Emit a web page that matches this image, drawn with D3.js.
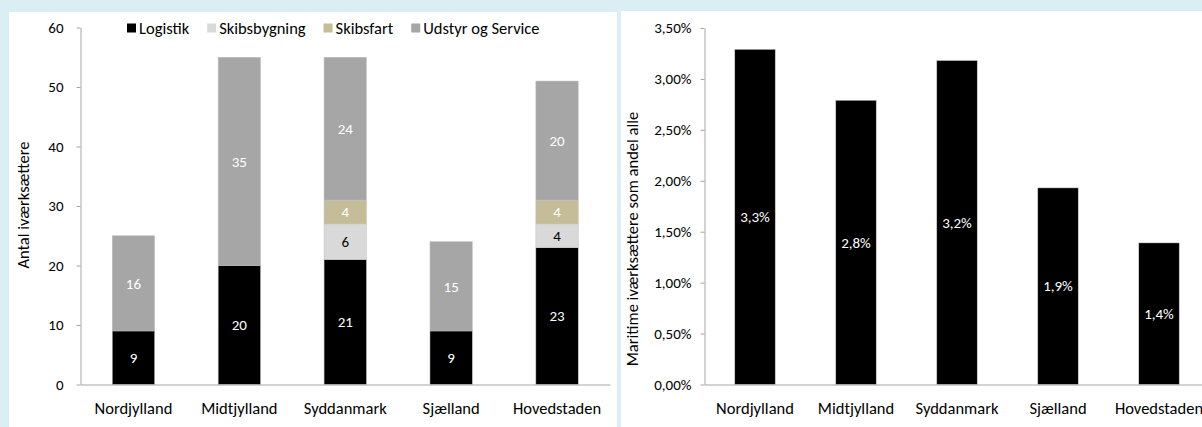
<!DOCTYPE html>
<html>
<head>
<meta charset="utf-8">
<script src="https://cdn.jsdelivr.net/npm/d3@7"></script>
<style>
  body { margin: 0; background: #daeef3; }
  svg { display: block; font-family: Carlito, Lato, "Open Sans", sans-serif; }
</style>
</head>
<body>
<svg id="chart" width="1202" height="427"></svg>
<script>
// data
const regions = ["Nordjylland", "Midtjylland", "Syddanmark", "Sjælland", "Hovedstaden"];
const sectors = ["Logistik", "Skibsbygning", "Skibsfart", "Udstyr og Service"];
const logistik = [9, 20, 21, 9, 23];
const skibsbygning = [0, 0, 6, 0, 4];
const skibsfart = [0, 0, 4, 0, 4];
const udstyr = [16, 35, 24, 15, 20];
const countTicks = [0, 10, 20, 30, 40, 50, 60];
const andel = [0.0329, 0.0279, 0.0318, 0.0193, 0.0139];
const andelLabels = ["3,3%", "2,8%", "3,2%", "1,9%", "1,4%"];
const pctTicks = [0, 0.005, 0.01, 0.015, 0.02, 0.025, 0.03, 0.035];
const pctTickLabels = ["0,00%", "0,50%", "1,00%", "1,50%", "2,00%", "2,50%", "3,00%", "3,50%"];

const colors = ["#000000", "#d9d9d9", "#c4bd97", "#a6a6a6"];
const labelColors = ["#ffffff", "#000000", "#ffffff", "#ffffff"];
const numSize = 15;     // numbers
const wordSize = 16.5;  // words
const titleSize = 16.5;

const svg = d3.select("#chart");

// panels
svg.append("rect").attr("x", 9).attr("y", 12).attr("width", 608).attr("height", 415).attr("fill", "#fff");
svg.append("rect").attr("x", 621).attr("y", 11).attr("width", 581).attr("height", 416).attr("fill", "#fff");

// ---------- left: stacked bars ----------
const table = regions.map((r, i) => ({
  region: r,
  "Logistik": logistik[i],
  "Skibsbygning": skibsbygning[i],
  "Skibsfart": skibsfart[i],
  "Udstyr og Service": udstyr[i]
}));
const stacked = d3.stack().keys(sectors)(table);

const x1 = d3.scaleBand().domain(regions).range([80.5, 610]).paddingInner(0.6).paddingOuter(0.3);
const y1 = d3.scaleLinear().domain([0, 60]).range([384.5, 27.5]);

const left = svg.append("g");

const layers = left.selectAll("g.layer").data(stacked).join("g")
  .attr("class", "layer")
  .attr("fill", (d, i) => colors[i]);

layers.selectAll("rect").data(d => d.filter(s => s[1] - s[0] > 0)).join("rect")
  .attr("x", d => x1(d.data.region))
  .attr("y", d => y1(d[1]))
  .attr("width", x1.bandwidth())
  .attr("height", d => y1(d[0]) - y1(d[1]))
  .attr("stroke", "#bfbfbf")
  .attr("stroke-width", 0.5);

layers.each(function(layer, i) {
  d3.select(this).selectAll("text").data(layer.filter(s => s[1] - s[0] > 0)).join("text")
    .attr("x", d => x1(d.data.region) + x1.bandwidth() / 2)
    .attr("y", d => (y1(d[0]) + y1(d[1])) / 2)
    .attr("dy", "0.35em")
    .attr("text-anchor", "middle")
    .attr("font-size", numSize)
    .attr("fill", labelColors[i])
    .text(d => d[1] - d[0]);
});

const yAxis1 = left.append("g").attr("transform", "translate(80.5,0)")
  .call(d3.axisLeft(y1).tickValues(countTicks).tickSize(4).tickSizeOuter(0).tickPadding(13));
const xAxis1 = left.append("g").attr("transform", "translate(0,384.5)")
  .call(d3.axisBottom(x1).tickSize(0).tickSizeOuter(0).tickPadding(18));

left.append("text")
  .attr("transform", "translate(29,205) rotate(-90)")
  .attr("text-anchor", "middle")
  .attr("font-size", titleSize)
  .text("Antal iværksættere");

// legend
const legend = left.append("g").attr("transform", "translate(127,28)");
let lx = 0;
sectors.forEach((s, i) => {
  const item = legend.append("g").attr("transform", `translate(${lx},0)`);
  item.append("rect").attr("x", 0).attr("y", -4.5).attr("width", 9).attr("height", 9).attr("fill", colors[i]);
  const t = item.append("text").attr("x", 12).attr("dy", "0.35em").attr("font-size", wordSize).text(s);
  lx += 12 + t.node().getComputedTextLength() + 18;
});

// ---------- right: share bars ----------
const x2 = d3.scaleBand().domain(regions).range([704.5, 1209.5]).paddingInner(0.6).paddingOuter(0.3);
const y2 = d3.scaleLinear().domain([0, 0.035]).range([384.5, 28]);

const right = svg.append("g");

right.selectAll("rect.bar").data(andel).join("rect")
  .attr("class", "bar")
  .attr("x", (d, i) => x2(regions[i]))
  .attr("y", d => y2(d))
  .attr("width", x2.bandwidth())
  .attr("height", d => y2(0) - y2(d))
  .attr("fill", "#000")
  .attr("stroke", "#bfbfbf")
  .attr("stroke-width", 0.5);

right.selectAll("text.lbl").data(andel).join("text")
  .attr("class", "lbl")
  .attr("x", (d, i) => x2(regions[i]) + x2.bandwidth() / 2)
  .attr("y", d => (y2(0) + y2(d)) / 2)
  .attr("dy", "0.35em")
  .attr("text-anchor", "middle")
  .attr("font-size", numSize)
  .attr("fill", "#fff")
  .text((d, i) => andelLabels[i]);

const yAxis2 = right.append("g").attr("transform", "translate(704.5,0)")
  .call(d3.axisLeft(y2).tickValues(pctTicks).tickFormat((d, i) => pctTickLabels[i])
    .tickSize(4).tickSizeOuter(0).tickPadding(9));
const xAxis2 = right.append("g").attr("transform", "translate(0,384.5)")
  .call(d3.axisBottom(x2).tickSize(0).tickSizeOuter(0).tickPadding(18));

right.append("text")
  .attr("transform", "translate(638,239) rotate(-90)")
  .attr("text-anchor", "middle")
  .attr("font-size", titleSize)
  .text("Maritime iværksættere som andel alle");

// axis styling
[yAxis1, yAxis2].forEach(a => a.attr("font-size", numSize));
[xAxis1, xAxis2].forEach(a => a.attr("font-size", wordSize));
[yAxis1, xAxis1, yAxis2, xAxis2].forEach(a => {
  a.attr("font-family", null);
  a.selectAll("path, line").attr("stroke", "#a6a6a6");
  a.selectAll("text").attr("fill", "#000");
});
</script>
</body>
</html>
